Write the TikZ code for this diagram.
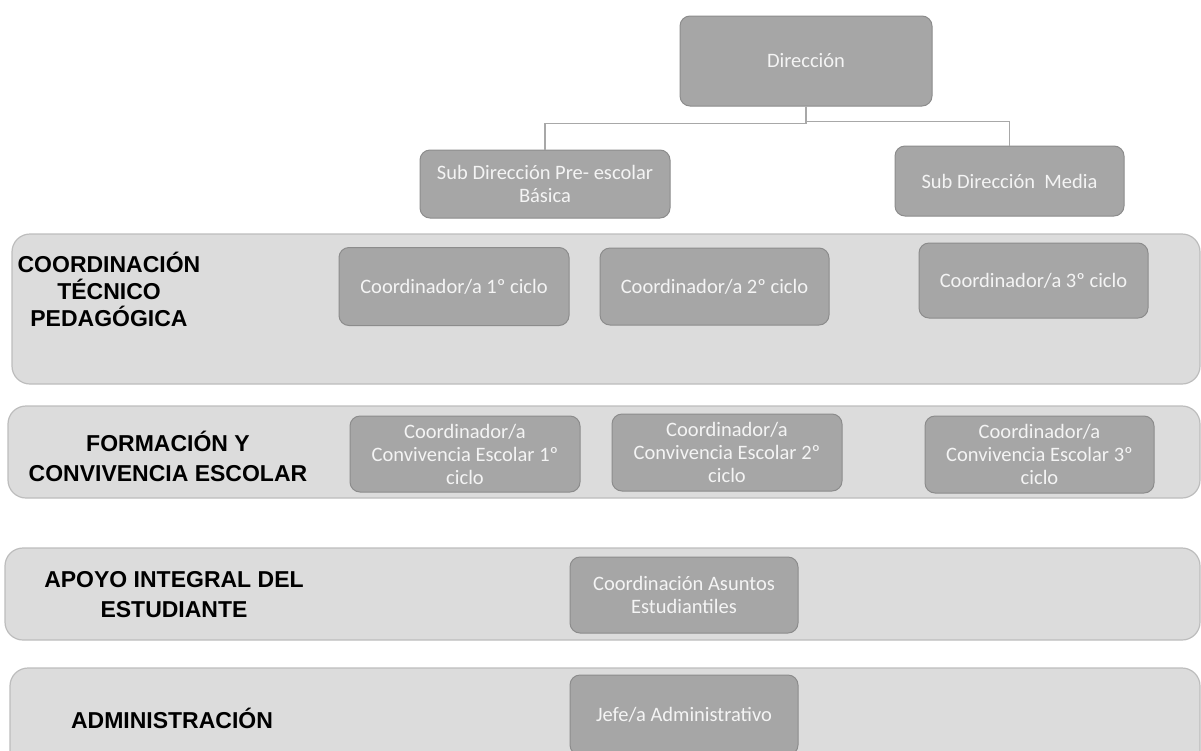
\documentclass[tikz,border=0pt]{standalone}
\usepackage{fontspec}
\setmainfont{Carlito}
\newfontfamily\labelfont{Liberation Sans}
\definecolor{bandfill}{HTML}{DCDCDC}
\definecolor{banddraw}{HTML}{BDBDBD}
\definecolor{boxfill}{HTML}{A6A6A6}
\definecolor{boxdraw}{HTML}{8C8C8C}
\definecolor{boxtext}{HTML}{F4F4F4}
\definecolor{linkcol}{HTML}{A8A8A8}
\begin{document}
\begin{tikzpicture}[x=1pt,y=-1pt,
  band/.style={draw=banddraw, fill=bandfill, line width=1.2pt, rounded corners=18pt, inner sep=0pt},
  gbox/.style={draw=boxdraw, fill=boxfill, line width=1pt, rounded corners=10pt, inner sep=1pt,
     text=boxtext, align=center, font=\fontsize{20.5}{23}\selectfont},
  grouplabel/.style={align=center, text=black, font=\labelfont\bfseries\fontsize{23}{30}\selectfont},
  link/.style={draw=linkcol, line width=1.3pt}]
\useasboundingbox (0,0) rectangle (1201,750);
\clip (0,0) rectangle (1201,750);
\fill[white] (0,0) rectangle (1201,750);

% bands
\node[band, minimum width=1188pt, minimum height=150pt] (b1) at (606,309) {};
\node[band, minimum width=1192pt, minimum height=92pt] (b2) at (604,452) {};
\node[band, minimum width=1195pt, minimum height=92pt] (b3) at (602.5,594) {};
\node[band, minimum width=1190pt, minimum height=102pt] (b4) at (605,719) {};

% group labels
\node[grouplabel, font=\labelfont\bfseries\fontsize{23}{27}\selectfont] (l1) at (109,289) {COORDINACIÓN\\TÉCNICO\\PEDAGÓGICA};
\node[grouplabel] (l2) at (168,456) {FORMACIÓN Y\\CONVIVENCIA ESCOLAR};
\node[grouplabel] (l3) at (174,595) {APOYO INTEGRAL DEL\\ESTUDIANTE};
\node[grouplabel] (l4) at (172,718) {ADMINISTRACIÓN};

% top hierarchy
\node[gbox, minimum width=252pt, minimum height=90pt] (dir) at (806,61) {Dirección};
\node[gbox, minimum width=250pt, minimum height=68pt] (subpre) at (545,184) {Sub Dirección Pre- escolar\\Básica};
\node[gbox, minimum width=229pt, minimum height=70pt] (submed) at (1009.5,181) {Sub Dirección\ \ Media};

\draw[link] (dir.south) -- ++(0,17) -| (subpre.north);
\draw[link] (dir.south) -- ++(0,15) -| (submed.north);

% coordinación técnico pedagógica
\node[gbox, minimum width=230pt, minimum height=78pt] (c1) at (454,286.5) {Coordinador/a 1º ciclo};
\node[gbox, minimum width=229pt, minimum height=77pt] (c2) at (714.5,286.5) {Coordinador/a 2º ciclo};
\node[gbox, minimum width=229pt, minimum height=75pt] (c3) at (1033.5,280.5) {Coordinador/a 3º ciclo};

% formación y convivencia
\node[gbox, minimum width=230pt, minimum height=76pt] (v1) at (465,454) {Coordinador/a\\Convivencia Escolar 1º\\ciclo};
\node[gbox, minimum width=230pt, minimum height=77pt] (v2) at (727,452.5) {Coordinador/a\\Convivencia Escolar 2º\\ciclo};
\node[gbox, minimum width=229pt, minimum height=77pt] (v3) at (1039.5,454.5) {Coordinador/a\\Convivencia Escolar 3º\\ciclo};

% apoyo integral
\node[gbox, minimum width=228pt, minimum height=76pt] (ae) at (684,595) {Coordinación Asuntos\\Estudiantiles};

% administración
\node[gbox, minimum width=228pt, minimum height=80pt] (ja) at (684,715) {Jefe/a Administrativo};
\end{tikzpicture}
\end{document}
